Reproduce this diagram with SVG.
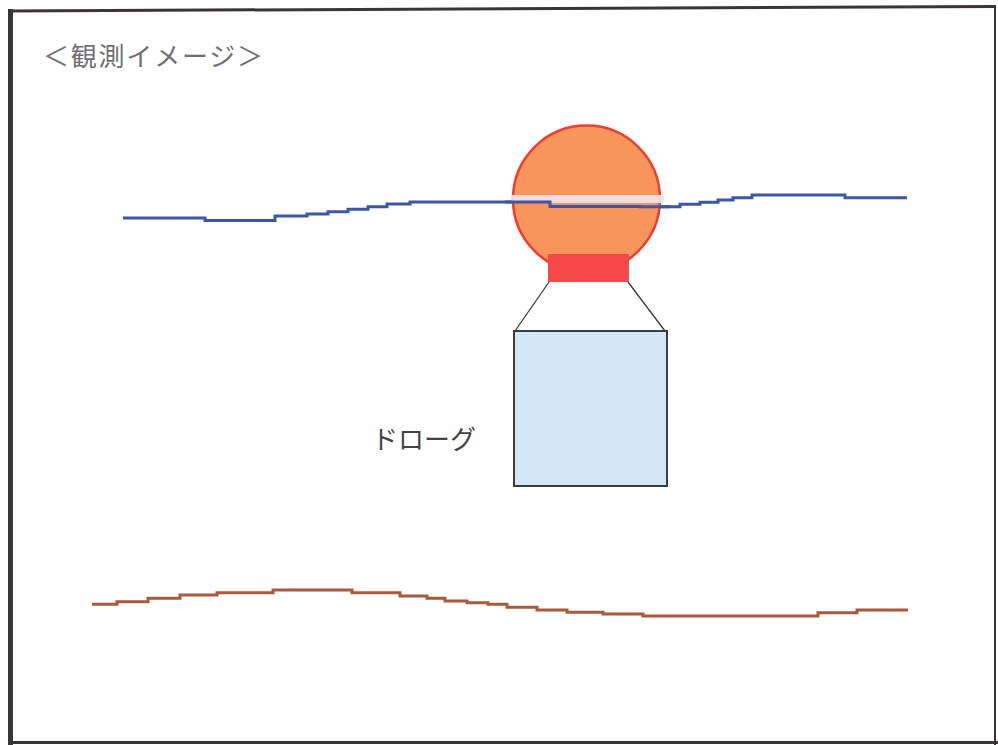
<svg xmlns="http://www.w3.org/2000/svg" width="998" height="745" viewBox="0 0 998 745">
  <style>
    .label { font-family: "Noto Sans CJK JP", "Noto Sans", sans-serif; }
    .frame { stroke: #3a3538; fill: none; }
    .wave { fill: none; stroke-width: 3; stroke-linejoin: miter; }
  </style>
  <rect x="0" y="0" width="998" height="745" fill="#ffffff"/>

  <!-- outer frame -->
  <g id="frame">
    <line class="frame" x1="10.5" y1="9" x2="10.5" y2="745" stroke-width="5"/>
    <line class="frame" x1="8" y1="11" x2="996" y2="6.5" stroke-width="3"/>
    <line class="frame" x1="995" y1="6" x2="995" y2="745" stroke-width="2"/>
    <line class="frame" x1="8" y1="742.5" x2="998" y2="742.5" stroke-width="3"/>
  </g>

  <!-- heading -->
  <g id="title">
    <text class="label" x="43" y="66" font-size="26" fill="#707070" textLength="220" lengthAdjust="spacing">＜観測イメージ＞</text>
  </g>

  <!-- water surface -->
  <g id="surface">
    <path class="wave" stroke="#3d56a6"
      d="M123,218 H205 V220.5 H275 V216 H307 V214 H328 V211.7 H348 V209.3 H368 V206.7 H387 V204 H410 V202 H550 V206.5 H640 V206.7 H680 V204.3 H700 V202.3 H718 V200 H733 V197.7 H752 V195 H845 V197.7 H907"/>
  </g>

  <!-- drogue buoy -->
  <g id="buoy">
    <rect x="548" y="254" width="81" height="28" fill="#f74848"/>
    <circle cx="586.5" cy="199" r="73.5" fill="#f8955a" stroke="#ee3e34" stroke-width="2.5"/>
    <rect x="548" y="254" width="81" height="28" fill="#f74848"/>
    <rect x="512" y="195" width="152" height="8" fill="#f2e4ec" opacity="0.9"/>
    <path class="wave" stroke="#3d56a6" d="M505,202 H550 V206.5 H640 V206.7 H670"/>
  </g>

  <!-- tether from float to sail -->
  <g id="tether" fill="none" stroke="#3a3a3a" stroke-width="1.3">
    <line x1="549" y1="282" x2="515" y2="331"/>
    <line x1="628" y1="282" x2="665" y2="331"/>
  </g>

  <!-- drogue sail -->
  <g id="drogue">
    <rect x="514" y="331" width="153" height="155" fill="#d4e7f6" stroke="#3d3d3d" stroke-width="2"/>
    <text class="label" x="372" y="449" font-size="26" fill="#444444">ドローグ</text>
  </g>

  <!-- sea floor -->
  <g id="seabed">
    <path class="wave" stroke="#a85a3c"
      d="M92,604.3 H117 V601.7 H148 V598.3 H180 V595 H217 V592.7 H273 V590 H352 V592.7 H400 V596 H427 V598.3 H445 V601 H467 V602.7 H488 V604.3 H507 V607.3 H537 V610 H567 V612.3 H603 V614 H643 V616 H818 V612.7 H857 V610 H908"/>
  </g>
</svg>
